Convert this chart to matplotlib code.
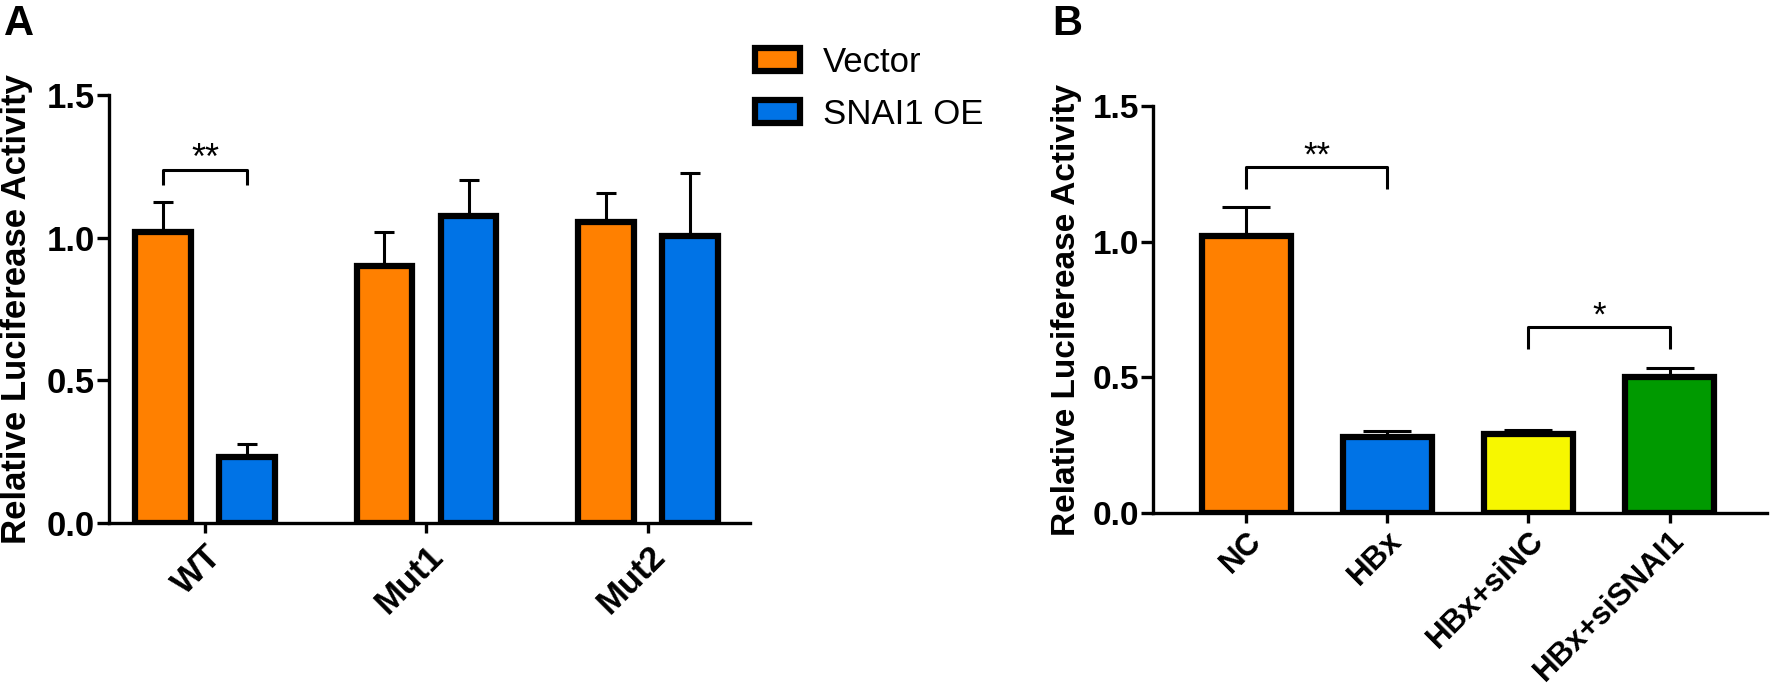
import matplotlib
matplotlib.use("Agg")
import matplotlib.pyplot as plt
import numpy as np
from matplotlib.patches import Patch

plt.rcParams['font.family'] = ['Liberation Sans', 'DejaVu Sans']

# Panel A data
groups_a = ['WT', 'Mut1', 'Mut2']
vector_mean = [1.02, 0.90, 1.055]
vector_err = [0.105, 0.12, 0.10]
snai1_mean = [0.23, 1.075, 1.005]
snai1_err = [0.047, 0.128, 0.223]

# Panel B data
groups_b = ['NC', 'HBx', 'HBx+siNC', 'HBx+siSNAI1']
b_mean = [1.02, 0.28, 0.291, 0.503]
b_err = [0.106, 0.024, 0.016, 0.032]

orange = '#FF8000'
blue = '#0073E6'
yellow = '#F7F700'
green = '#009A00'

EDGE = 4.5
SPINE = 2.4


def style_axes(ax, fs, xpad):
    for s in ['top', 'right']:
        ax.spines[s].set_visible(False)
    for s in ['left', 'bottom']:
        ax.spines[s].set_linewidth(SPINE)
    ax.set_ylim(0, 1.5)
    ax.set_yticks([0, 0.5, 1.0, 1.5])
    ax.set_yticklabels(['0.0', '0.5', '1.0', '1.5'], fontweight='bold', fontsize=fs)
    ax.tick_params(axis='y', length=9, width=SPINE, pad=1)
    ax.tick_params(axis='x', length=7, width=SPINE, pad=xpad)
    ax.set_ylabel('Relative Luciferease Activity', fontweight='bold', fontsize=fs)


def bracket(ax, x1, x2, y_top, y_leg, text, fs):
    ax.plot([x1, x1, x2, x2], [y_leg, y_top, y_top, y_leg], color='k', lw=2.2,
            solid_capstyle='butt', clip_on=False)
    ax.text((x1 + x2) / 2, y_top + 0.004, text, ha='center', va='baseline', fontsize=fs)


fig = plt.figure(figsize=(17.7, 6.94), dpi=100)

# ---- Panel A ----
FS_A = 25
axA = fig.add_axes([0.0616, 0.2464, 0.3621, 0.6167])
x = np.arange(len(groups_a))
off = 0.19
w = 0.25
axA.bar(x - off, vector_mean, w, color=orange, edgecolor='k', linewidth=EDGE, zorder=3)
axA.bar(x + off, snai1_mean, w, color=blue, edgecolor='k', linewidth=EDGE, zorder=3)
axA.errorbar(x - off, vector_mean, yerr=[np.zeros(3), vector_err], fmt='none',
             ecolor='k', elinewidth=2.2, capsize=7.4, capthick=2.2, zorder=2)
axA.errorbar(x + off, snai1_mean, yerr=[np.zeros(3), snai1_err], fmt='none',
             ecolor='k', elinewidth=2.2, capsize=7.4, capthick=2.2, zorder=2)
axA.set_xlim(-0.433, 2.46)
style_axes(axA, FS_A, 5)
axA.set_xticks(x)
axA.set_xticklabels(groups_a, rotation=45, ha='right', rotation_mode='anchor',
                    fontweight='bold', fontsize=FS_A)
axA.yaxis.set_label_coords(-0.119, 0.5)
bracket(axA, -off, off, 1.238, 1.183, '**', 26)

handles = [Patch(facecolor=orange, edgecolor='k', linewidth=EDGE, label='Vector'),
           Patch(facecolor=blue, edgecolor='k', linewidth=EDGE, label='SNAI1 OE')]
fig.legend(handles=handles, loc='upper left', bbox_to_anchor=(755 / 1770, 1 - 46 / 694),
           frameon=False, fontsize=25, handlelength=1.3, handleheight=0.65,
           handletextpad=0.65, labelspacing=0.55, borderpad=0, borderaxespad=0)

# ---- Panel B ----
FS_B = 24
axB = fig.add_axes([0.6514, 0.2608, 0.3469, 0.5865])
xb = np.arange(len(groups_b))
axB.bar(xb, b_mean, 0.63, color=[orange, blue, yellow, green], edgecolor='k',
        linewidth=EDGE, zorder=3)
axB.errorbar(xb, b_mean, yerr=[np.zeros(4), b_err], fmt='none', ecolor='k',
             elinewidth=2.2, capsize=17, capthick=2.2, zorder=2)
axB.set_xlim(-0.66, 3.69)
style_axes(axB, FS_B, 2)
axB.set_xticks(xb)
axB.set_xticklabels(groups_b, rotation=45, ha='right', rotation_mode='anchor',
                    fontweight='bold', fontsize=22.5)
axB.yaxis.set_label_coords(-0.116, 0.5)
bracket(axB, 0, 1, 1.276, 1.194, '**', 25)
bracket(axB, 2, 3, 0.687, 0.605, '*', 25)

fig.text(4 / 1770, 1 - 35 / 694, 'A', fontsize=30, fontweight='bold', va='baseline', ha='left')
fig.text(1052 / 1770, 1 - 35 / 694, 'B', fontsize=30, fontweight='bold', va='baseline', ha='left')

fig.savefig('out.png', dpi=100)
